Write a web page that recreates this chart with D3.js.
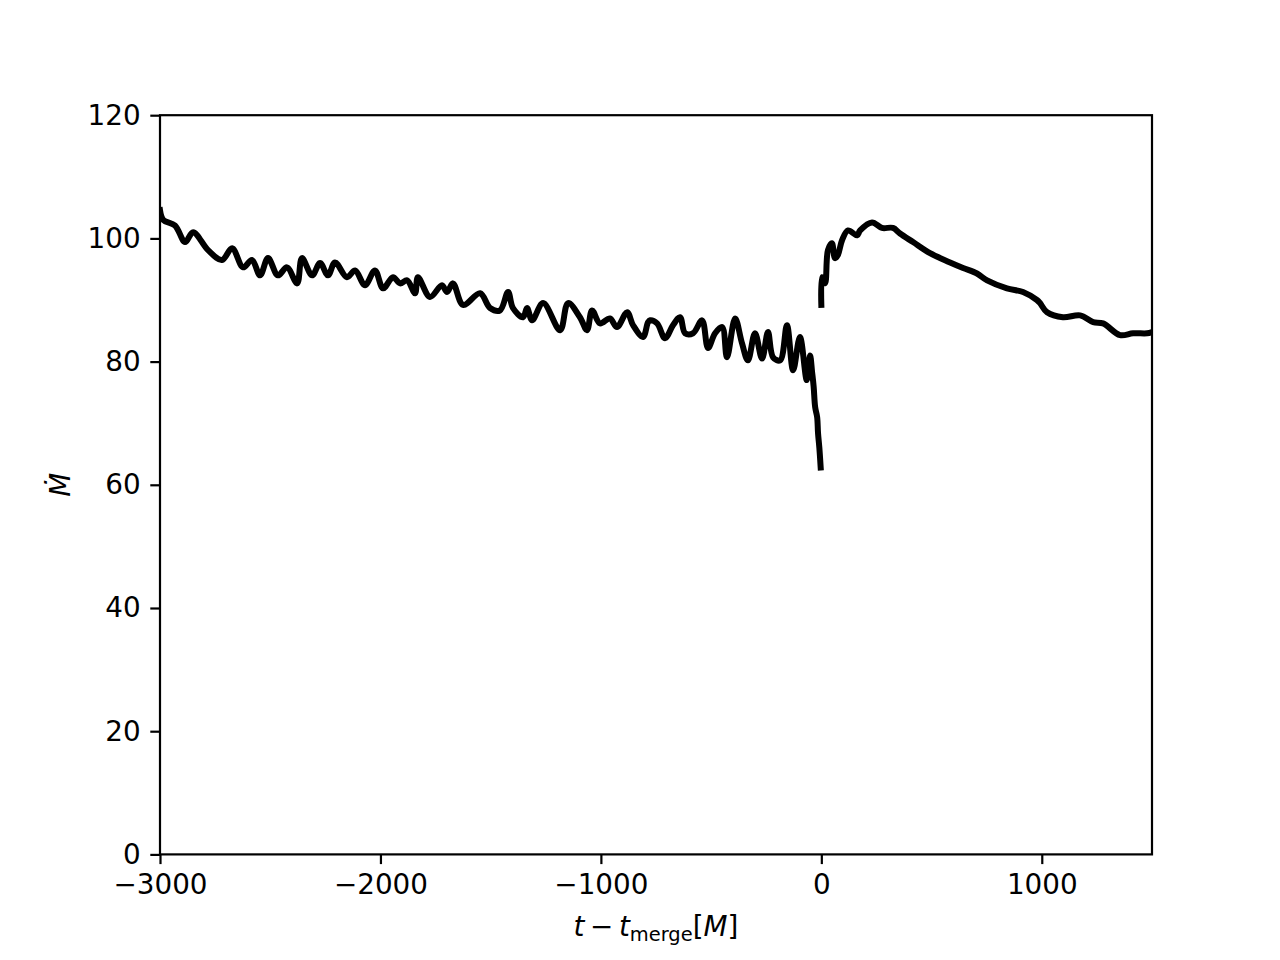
<!DOCTYPE html>
<html>
<head>
<meta charset="utf-8">
<script src="https://cdn.jsdelivr.net/npm/d3@7"></script>
<style>
  html, body { margin: 0; padding: 0; background: #fff; }
  svg { display: block; }
  text { font-family: "DejaVu Sans", sans-serif; }
</style>
</head>
<body>
<svg id="chart" width="1280" height="960"></svg>
<script>
// ---- data ----
const preT = [-3000,-2985,-2932,-2886,-2850,-2782,-2719,-2673,-2623,-2583,-2546,-2510,-2465,-2424,-2378,-2356,-2310,-2274,-2238,-2206,-2152,-2115,-2070,-2025,-1988,-1943,-1911,-1879,-1843,-1830,-1775,-1721,-1698,-1671,-1625,-1548,-1503,-1458,-1421,-1399,-1353,-1335,-1312,-1262,-1185,-1149,-1095,-1063,-1040,-1004,-959,-927,-881,-854,-809,-786,-777,-745,-709,-673,-641,-618,-582,-541,-514,-482,-450,-428,-391,-360,-333,-301,-269,-242,-219,-187,-156,-128,-97,-66,-51,-42,-35,-28,-19,-15,-9,-3];
const preM = [104.6,103.0,102.1,99.4,101.0,98.1,96.5,98.4,95.3,96.5,94.0,96.8,94.0,95.3,92.7,96.8,94.0,96.0,94.0,96.1,93.7,94.8,92.4,94.8,91.9,93.7,92.7,93.2,91.1,93.7,90.5,92.4,91.3,92.7,89.2,91.1,88.7,88.3,91.3,88.7,87.2,88.7,86.7,89.5,85.1,89.5,87.2,85.1,88.3,86.2,87.0,85.6,88.0,85.9,84.0,86.4,86.7,86.2,83.8,85.9,87.2,84.6,84.6,86.7,82.2,84.6,85.6,80.7,87.0,83.0,80.2,84.6,80.5,84.8,80.7,80.2,85.9,78.6,84.0,77.0,81.0,78.3,76.0,72.6,71.0,68.4,66.0,62.8];
const postT = [0,3,17,30,48,62,75,94,121,162,176,230,275,325,357,416,493,584,643,706,752,842,915,978,992,1024,1096,1174,1233,1278,1355,1414,1478,1500];
const postM = [89.2,93.7,92.7,98.1,99.2,96.8,97.3,99.7,101.3,100.5,101.3,102.6,101.7,101.7,100.8,99.4,97.6,96.1,95.2,94.3,93.2,91.9,91.3,90.0,89.5,88.0,87.2,87.5,86.4,86.2,84.3,84.6,84.6,84.8];
const xTicks = [-3000,-2000,-1000,0,1000];
const yTicks = [0,20,40,60,80,100,120];

// ---- layout ----
const mL = 160, mR = 1152, mT = 115.2, mB = 854.4;
const svg = d3.select("#chart");

const x = d3.scaleLinear().domain([-3000, 1500]).range([mL, mR]);
const y = d3.scaleLinear().domain([0, 120]).range([mB, mT]);

const fs = 27.8;
const tickLen = 9.7, tickW = 2.2;

svg.append("defs").append("clipPath").attr("id","clip")
  .append("rect").attr("x",mL).attr("y",mT).attr("width",mR-mL).attr("height",mB-mT);

const line = d3.line().x(d => x(d[0])).y(d => y(d[1])).curve(d3.curveCatmullRom.alpha(0.5));
const pre = preT.map((t,i) => [t, preM[i]]);
const post = postT.map((t,i) => [t, postM[i]]);

const g = svg.append("g").attr("clip-path","url(#clip)");
[pre, post].forEach(seg => {
  g.append("path").attr("d", line(seg))
    .attr("fill","none").attr("stroke","#000").attr("stroke-width",6)
    .attr("stroke-linejoin","round").attr("stroke-linecap","square");
});

const xAxis = d3.axisBottom(x).tickValues(xTicks).tickSize(tickLen).tickPadding(9.7);
const yAxis = d3.axisLeft(y).tickValues(yTicks).tickSize(tickLen).tickPadding(9.7);

const gx = svg.append("g").attr("transform",`translate(0,${mB})`).call(xAxis);
const gy = svg.append("g").attr("transform",`translate(${mL},0)`).call(yAxis);
[gx, gy].forEach(a => {
  a.select(".domain").remove();
  a.selectAll(".tick line").attr("stroke","#000").attr("stroke-width",tickW);
  a.selectAll(".tick text").attr("fill","#000").style("font-size", fs + "px")
    .style("font-family","DejaVu Sans");
});
gx.selectAll(".tick text").text(d => d < 0 ? "\u2212" + Math.abs(d) : String(d));
gy.selectAll(".tick text").text(d => String(d));

svg.append("rect").attr("x",mL).attr("y",mT).attr("width",mR-mL).attr("height",mB-mT)
  .attr("fill","none").attr("stroke","#000").attr("stroke-width",tickW);

const xl = svg.append("text").attr("x",(mL+mR)/2).attr("y",936)
  .attr("text-anchor","middle").style("font-size", fs + "px");
xl.append("tspan").style("font-style","italic").text("t");
xl.append("tspan").text("\u2009\u2212\u2009");
xl.append("tspan").style("font-style","italic").text("t");
xl.append("tspan").style("font-size",(fs*0.7)+"px").attr("dy",5).text("merge");
xl.append("tspan").attr("dy",-5).text("[");
xl.append("tspan").style("font-style","italic").text("M");
xl.append("tspan").text("]");

svg.append("text").attr("transform",`translate(70,${(mT+mB)/2}) rotate(-90)`)
  .attr("text-anchor","middle").style("font-size", fs + "px").style("font-style","italic")
  .text("M\u0307");
</script>
</body>
</html>
